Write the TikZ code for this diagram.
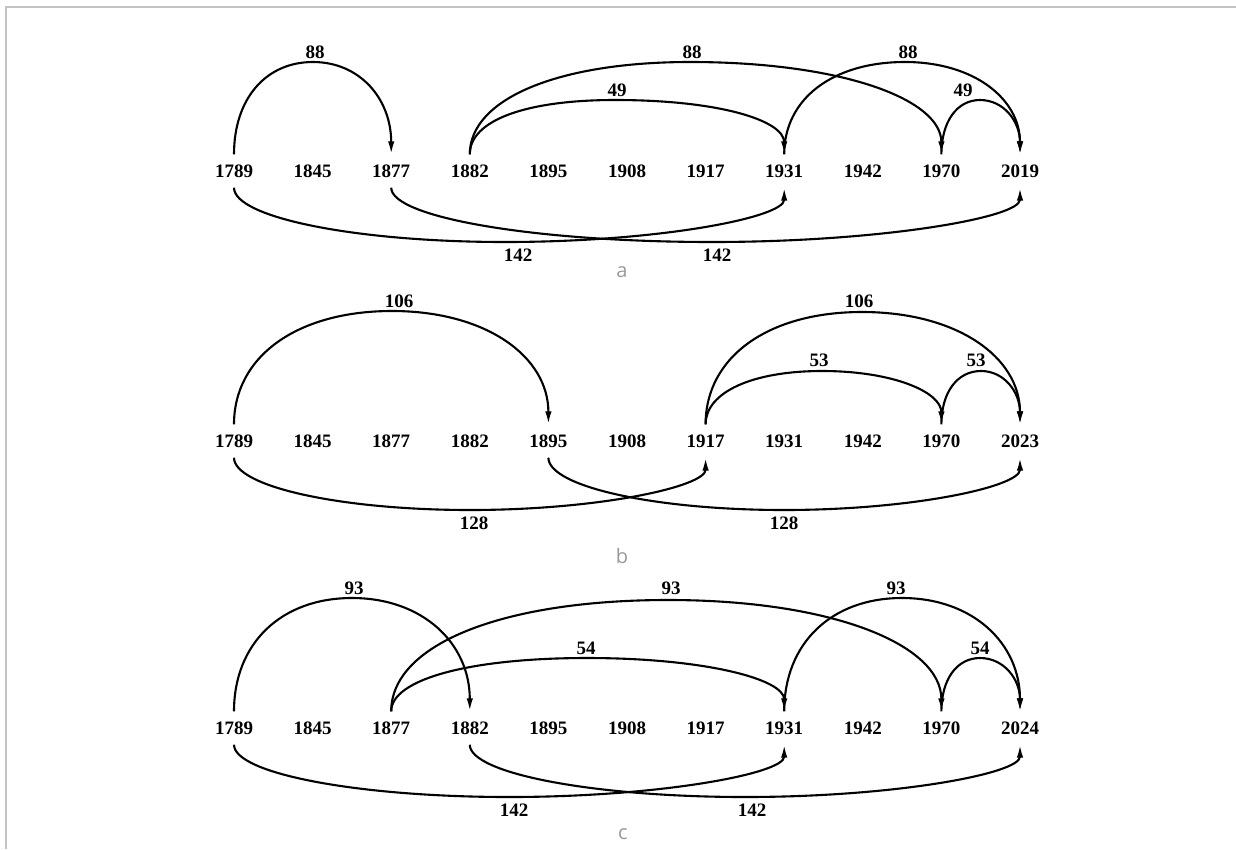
\documentclass[tikz,border=0pt]{standalone}
\usepackage{fontspec}
\setmainfont{Liberation Serif}
\newfontfamily\subfont{Open Sans}
\usetikzlibrary{arrows.meta,calc}
\definecolor{framegray}{HTML}{C4C4C4}
\definecolor{subgray}{HTML}{999999}
% #1 source node, #2 peak coordinate, #3 target node, #4 anchor, #5 roundness factor
\newcommand\arcpath[5]{%
  \draw[edge] let \p1=(#1.#4), \p2=(#2), \p3=(#3.#4) in
    (\p1) .. controls (\x1,{(\y1)+#5*((\y2)-(\y1))}) and ({(\x2)-#5*((\x2)-(\x1))},\y2) .. (\p2)
          .. controls ({(\x2)+#5*((\x3)-(\x2))},\y2) and (\x3,{(\y3)+#5*((\y2)-(\y3))}) .. (\p3);}
\begin{document}
\begin{tikzpicture}[x=1pt,y=-1pt,
  year/.style={font=\fontsize{19}{19}\selectfont\bfseries, inner sep=0pt, minimum height=33pt},
  lbl/.style={font=\fontsize{19}{19}\selectfont\bfseries, inner sep=0pt},
  sub/.style={font=\fontsize{20}{20}\selectfont\subfont, text=subgray, inner sep=0pt},
  edge/.style={line width=2.1pt, -{Latex[length=13pt,width=6.5pt]}},
  frame/.style={draw=framegray, line width=1.2pt}]
\useasboundingbox (0,0) rectangle (1236,849);
\draw[frame] (6,849) -- (6,7) -- (1236,7);

% ---------------- panel a ----------------
\foreach \yr [count=\i from 0] in {1789,1845,1877,1882,1895,1908,1917,1931,1942,1970,2019}
  \node[year] (a\yr) at ({234+78.6*\i},171) {\yr};
\coordinate (pa1) at (313,62);
\coordinate (pa2) at (690,62);
\coordinate (pa3) at (615,100);
\coordinate (pa4) at (905,62);
\coordinate (pa5) at (980,100);
\coordinate (pa6) at (505,242);
\coordinate (pa7) at (712,242);
\arcpath{a1789}{pa1}{a1877}{north}{0.6}
\arcpath{a1882}{pa2}{a1970}{north}{0.6}
\arcpath{a1882}{pa3}{a1931}{north}{0.62}
\arcpath{a1931}{pa4}{a2019}{north}{0.6}
\arcpath{a1970}{pa5}{a2019}{north}{0.6}
\arcpath{a1789}{pa6}{a1931}{south}{0.55}
\arcpath{a1877}{pa7}{a2019}{south}{0.55}
\node[lbl] (la1) at (315,52) {88};
\node[lbl] (la2) at (692,52) {88};
\node[lbl] (la3) at (617,90) {49};
\node[lbl] (la4) at (908,52) {88};
\node[lbl] (la5) at (963,90) {49};
\node[lbl] (la6) at (518,255) {142};
\node[lbl] (la7) at (717,255) {142};
\node[sub] (suba) at (622,272) {a};

% ---------------- panel b ----------------
\foreach \yr [count=\i from 0] in {1789,1845,1877,1882,1895,1908,1917,1931,1942,1970,2023}
  \node[year] (b\yr) at ({234+78.6*\i},441) {\yr};
\coordinate (pb1) at (392,311);
\coordinate (pb2) at (862,312);
\coordinate (pb3) at (822,371);
\coordinate (pb4) at (981,371);
\coordinate (pb5) at (470,510);
\coordinate (pb6) at (784,510);
\arcpath{b1789}{pb1}{b1895}{north}{0.6}
\arcpath{b1917}{pb2}{b2023}{north}{0.6}
\arcpath{b1917}{pb3}{b1970}{north}{0.6}
\arcpath{b1970}{pb4}{b2023}{north}{0.6}
\arcpath{b1789}{pb5}{b1917}{south}{0.55}
\arcpath{b1895}{pb6}{b2023}{south}{0.55}
\node[lbl] (lb1) at (399,301) {106};
\node[lbl] (lb2) at (859,301) {106};
\node[lbl] (lb3) at (819,360) {53};
\node[lbl] (lb4) at (976,360) {53};
\node[lbl] (lb5) at (474,523) {128};
\node[lbl] (lb6) at (784,523) {128};
\node[sub] (subb) at (622,556) {b};

% ---------------- panel c ----------------
\foreach \yr [count=\i from 0] in {1789,1845,1877,1882,1895,1908,1917,1931,1942,1970,2024}
  \node[year] (c\yr) at ({234+78.6*\i},728) {\yr};
\coordinate (pc1) at (352,598);
\coordinate (pc2) at (668,600);
\coordinate (pc3) at (587,658);
\coordinate (pc4) at (902,598);
\coordinate (pc5) at (980,658);
\coordinate (pc6) at (509,797);
\coordinate (pc7) at (745,797);
\arcpath{c1789}{pc1}{c1882}{north}{0.6}
\arcpath{c1877}{pc2}{c1970}{north}{0.6}
\arcpath{c1877}{pc3}{c1931}{north}{0.6}
\arcpath{c1931}{pc4}{c2024}{north}{0.6}
\arcpath{c1970}{pc5}{c2024}{north}{0.6}
\arcpath{c1789}{pc6}{c1931}{south}{0.55}
\arcpath{c1882}{pc7}{c2024}{south}{0.55}
\node[lbl] (lc1) at (354,588) {93};
\node[lbl] (lc2) at (671,588) {93};
\node[lbl] (lc3) at (586,648) {54};
\node[lbl] (lc4) at (896,588) {93};
\node[lbl] (lc5) at (980,648) {54};
\node[lbl] (lc6) at (514,810) {142};
\node[lbl] (lc7) at (752,810) {142};
\node[sub] (subc) at (623,834) {c};
\end{tikzpicture}
\end{document}
